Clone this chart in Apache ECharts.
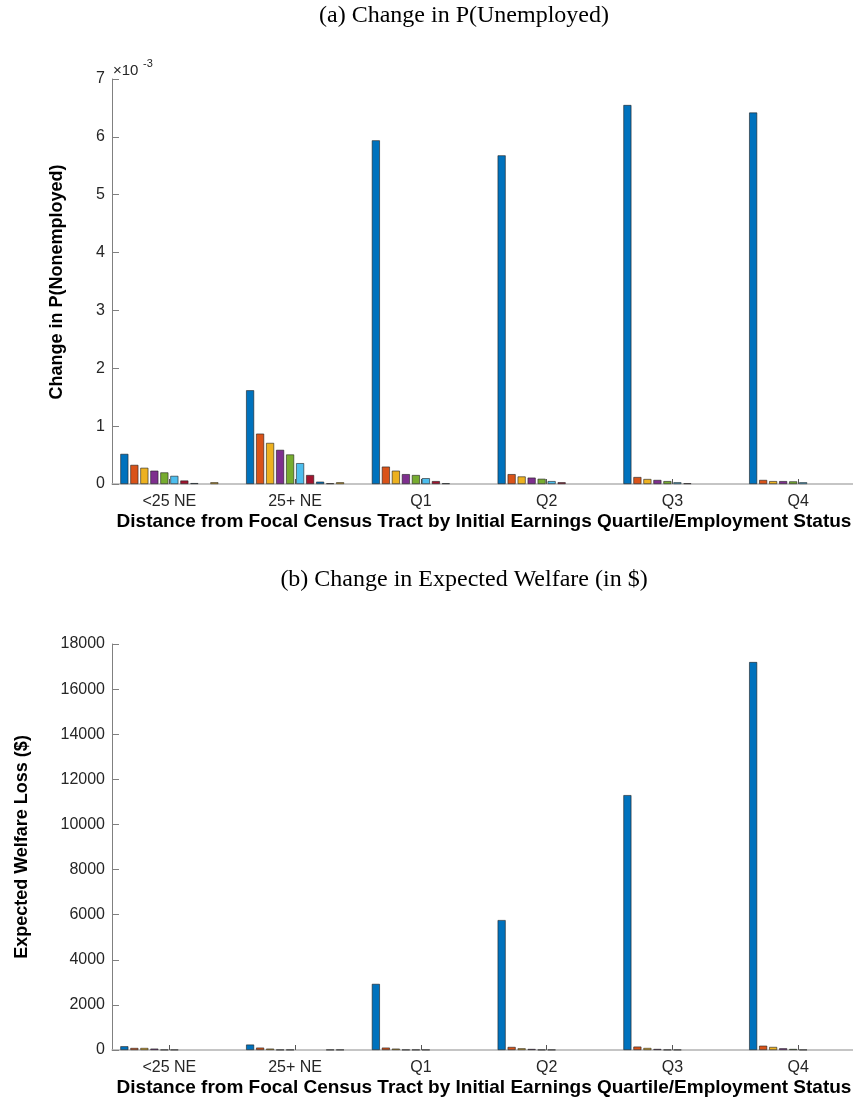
<!DOCTYPE html>
<html>
<head>
<meta charset="utf-8">
<script src="https://cdn.jsdelivr.net/npm/echarts@6/dist/echarts.min.js"></script>
<style>
  html, body { margin: 0; padding: 0; background: #fff; }
  #chart { width: 853px; height: 1105px; }
</style>
</head>
<body>
<div id="chart"></div>
<script>
// Groups on the x axis (initial earnings quartile / employment status)
const categories = ['<25 NE', '25+ NE', 'Q1', 'Q2', 'Q3', 'Q4'];

// Panel (a): change in P(Nonemployed), in units of 1e-3.
// One row per distance bin (bar within each group), one value per category.
const nonemployedBin1  = [0.52, 1.62, 5.94, 5.68, 6.55, 6.42];
const nonemployedBin2  = [0.33, 0.87, 0.30, 0.17, 0.12, 0.07];
const nonemployedBin3  = [0.28, 0.71, 0.23, 0.13, 0.086, 0.05];
const nonemployedBin4  = [0.23, 0.59, 0.17, 0.11, 0.07, 0.05];
const nonemployedBin5  = [0.20, 0.51, 0.155, 0.09, 0.05, 0.045];
const nonemployedBin6  = [0.14, 0.36, 0.10, 0.05, 0.03, 0.03];
const nonemployedBin7  = [0.06, 0.155, 0.05, 0.03, 0.012, 0];
const nonemployedBin8  = [0.015, 0.04, 0.012, 0, 0, 0];
const nonemployedBin9  = [0, 0.012, 0, 0, 0, 0];
const nonemployedBin10 = [0.03, 0.03, 0, 0, 0, 0];

// Panel (b): expected welfare loss in dollars.
const welfareBin1  = [165, 240, 2930, 5760, 11300, 17200];
const welfareBin2  = [90, 105, 105, 135, 150, 190];
const welfareBin3  = [90, 60, 60, 75, 90, 135];
const welfareBin4  = [60, 12, 12, 45, 45, 75];
const welfareBin5  = [12, 12, 12, 12, 12, 45];
const welfareBin6  = [12, 0, 12, 12, 12, 12];
const welfareBin7  = [0, 0, 0, 0, 0, 0];
const welfareBin8  = [0, 0, 0, 0, 0, 0];
const welfareBin9  = [0, 12, 0, 0, 0, 0];
const welfareBin10 = [0, 12, 0, 0, 0, 0];

const nonemployedBins = [nonemployedBin1, nonemployedBin2, nonemployedBin3, nonemployedBin4, nonemployedBin5,
                         nonemployedBin6, nonemployedBin7, nonemployedBin8, nonemployedBin9, nonemployedBin10];
const welfareBins = [welfareBin1, welfareBin2, welfareBin3, welfareBin4, welfareBin5,
                     welfareBin6, welfareBin7, welfareBin8, welfareBin9, welfareBin10];

// MATLAB-style default line colour order, cycled over the bins
const palette = ['#0072BD', '#D95319', '#EDB120', '#7E2F8E', '#77AC30', '#4DBEEE', '#A2142F'];

const sansFont = "'Liberation Sans', Arial, Helvetica, sans-serif";
const serifFont = "'Liberation Serif', 'Times New Roman', serif";
const tickColor = '#262626';
const groupPositions = categories.map((_, i) => i + 1);

function xAxisFor(gridIndex) {
  return {
    type: 'value', gridIndex: gridIndex,
    min: 0.544, max: 6.456,
    splitLine: { show: false },
    axisLine: { show: true, onZero: false, lineStyle: { color: '#b3b3b3', width: 1.5 } },
    axisTick: { show: true, inside: true, length: 5, customValues: groupPositions,
                lineStyle: { color: '#555', width: 1 } },
    axisLabel: { show: true, customValues: groupPositions,
                 formatter: v => categories[Math.round(v) - 1] || '',
                 margin: 10, fontSize: 16, color: tickColor, fontFamily: sansFont }
  };
}

function yAxisFor(gridIndex, max, interval) {
  return {
    type: 'value', gridIndex: gridIndex,
    min: 0, max: max, interval: interval,
    splitLine: { show: false },
    axisLine: { show: true, lineStyle: { color: '#808080', width: 1 } },
    axisTick: { show: true, inside: true, length: 7, lineStyle: { color: '#808080', width: 1 } },
    axisLabel: { margin: 7, fontSize: 16, color: tickColor, fontFamily: sansFont,
                 formatter: v => String(v) }
  };
}

// Empty bins are left undrawn
function barsFor(rows, gridIndex) {
  return rows.map((vals, i) => ({
    type: 'bar',
    xAxisIndex: gridIndex, yAxisIndex: gridIndex,
    data: vals.map((v, j) => [j + 1, v === 0 ? null : v]),
    barWidth: 8, barGap: '25%',
    itemStyle: { color: palette[i % palette.length], borderColor: '#1e1e1e', borderWidth: 0.6 },
    silent: true
  }));
}

function label(text, x, y, font, opts) {
  return Object.assign({
    type: 'text', x: x, y: y, silent: true,
    style: { text: text, font: font, fill: '#000', textAlign: 'center', textVerticalAlign: 'middle' }
  }, opts || {});
}

const xTitle = 'Distance from Focal Census Tract by Initial Earnings Quartile/Employment Status';

const chart = echarts.init(document.getElementById('chart'), null, { renderer: 'canvas' });
chart.setOption({
  animation: false,
  backgroundColor: '#fff',
  grid: [
    { left: 112, top: 79, width: 743.5, height: 405, containLabel: false, outerBoundsMode: 'none' },
    { left: 112, top: 644, width: 743.5, height: 406, containLabel: false, outerBoundsMode: 'none' }
  ],
  xAxis: [xAxisFor(0), xAxisFor(1)],
  yAxis: [yAxisFor(0, 7, 1), yAxisFor(1, 18000, 2000)],
  series: barsFor(nonemployedBins, 0).concat(barsFor(welfareBins, 1)),
  graphic: [
    label('(a) Change in P(Unemployed)', 464, 16, '24px ' + serifFont),
    label('(b) Change in Expected Welfare (in $)', 464, 580, '24px ' + serifFont),
    label(xTitle, 484, 522, 'bold 19px ' + sansFont),
    label(xTitle, 484, 1088, 'bold 19px ' + sansFont),
    label('Change in P(Nonemployed)', 57, 282, 'bold 18px ' + sansFont, { rotation: Math.PI / 2 }),
    label('Expected Welfare Loss ($)', 22, 847, 'bold 18px ' + sansFont, { rotation: Math.PI / 2 }),
    {
      type: 'text', x: 113, y: 71, silent: true,
      style: { text: '\u00d710', font: '15px ' + sansFont, fill: tickColor,
               textAlign: 'left', textVerticalAlign: 'middle' }
    },
    {
      type: 'text', x: 143, y: 64, silent: true,
      style: { text: '-3', font: '11px ' + sansFont, fill: tickColor,
               textAlign: 'left', textVerticalAlign: 'middle' }
    }
  ]
});
</script>
</body>
</html>
